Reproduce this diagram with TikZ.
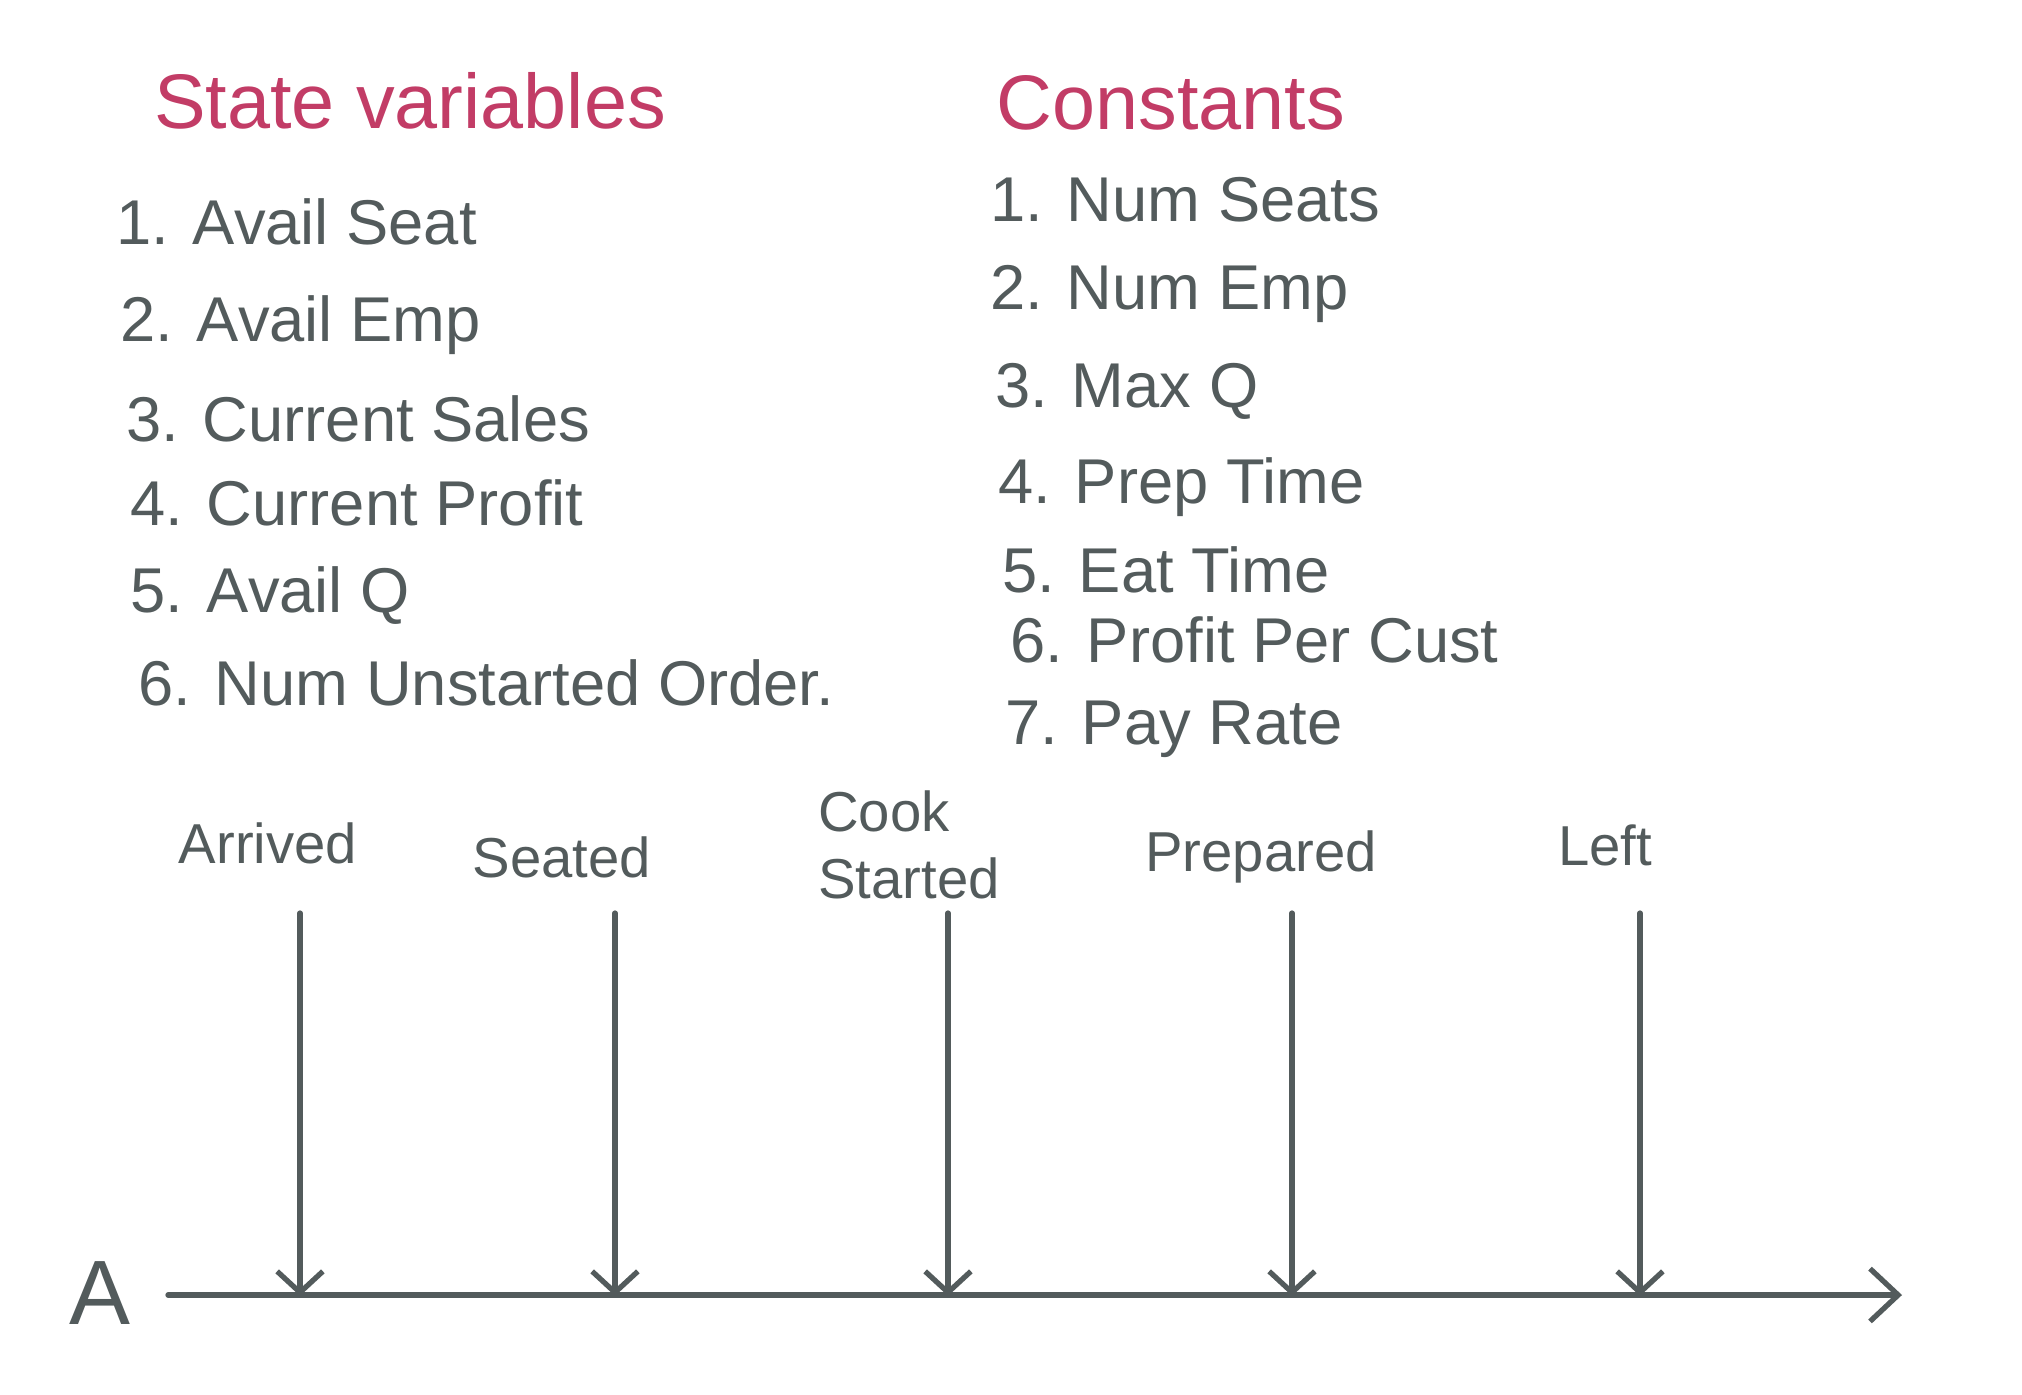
\documentclass[tikz,border=0pt]{standalone}
\usepackage{fontspec}
\setmainfont{Liberation Sans}
\usetikzlibrary{arrows.meta}
\definecolor{ink}{HTML}{535B5C}
\definecolor{rose}{HTML}{C23C66}
\tikzset{
  title/.style={text=rose, font=\fontsize{22}{26}\selectfont, anchor=center},
  item/.style={text=ink, font=\fontsize{18}{22}\selectfont, anchor=west, inner sep=0pt},
  evt/.style={text=ink, font=\fontsize{16}{19}\selectfont, align=left, anchor=center},
  line/.style={draw=ink, line width=1.5pt, line cap=round},
  down/.style={line, -{Straight Barb[length=6pt,width=13pt,line width=1.5pt]}},
}
\begin{document}
\begin{tikzpicture}[x=0.01cm,y=-0.01cm]
\useasboundingbox (0,0) rectangle (2022,1394);
\node[title] (sv) at (410,101) {State variables};
\node[title] (co) at (1171,103) {Constants};
\node[item] (s1) at (116,222) {1. Avail Seat};
\node[item] (s2) at (120,325) {2. Avail Emp};
\node[item] (s3) at (126,419) {3. Current Sales};
\node[item] (s4) at (130,503) {4. Current Profit};
\node[item] (s5) at (130,596) {5. Avail Q};
\node[item] (s6) at (138,683) {6. Num Unstarted Order.};
\node[item] (c1) at (990,200) {1. Num Seats};
\node[item] (c2) at (990,294) {2. Num Emp};
\node[item] (c3) at (995,391) {3. Max Q};
\node[item] (c4) at (998,487) {4. Prep Time};
\node[item] (c5) at (1002,570) {5. Eat Time};
\node[item] (c6) at (1010,640) {6. Profit Per Cust};
\node[item] (c7) at (1005,729) {7. Pay Rate};
\node[evt] (e1) at (268,843) {Arrived};
\node[evt] (e2) at (562,857) {Seated};
\node[evt] (e3) at (909,845) {Cook\\Started};
\node[evt] (e4) at (1261,857) {Prepared};
\node[evt] (e5) at (1605,845) {Left};
\node[text=ink, font=\fontsize{26}{30}\selectfont] (a) at (100,1293) {A};
\coordinate (t0) at (168,1295);
\coordinate (t1) at (1902,1295);
\draw[line, -{Straight Barb[length=8pt,width=15pt,line width=1.5pt]}] (t0) -- (t1);
\foreach \n/\x in {1/300,2/615,3/948,4/1292,5/1640}{
  \coordinate (u\n) at (\x,913);
  \coordinate (b\n) at (\x,1296);
  \draw[down] (u\n) -- (b\n);
}
\end{tikzpicture}
\end{document}
